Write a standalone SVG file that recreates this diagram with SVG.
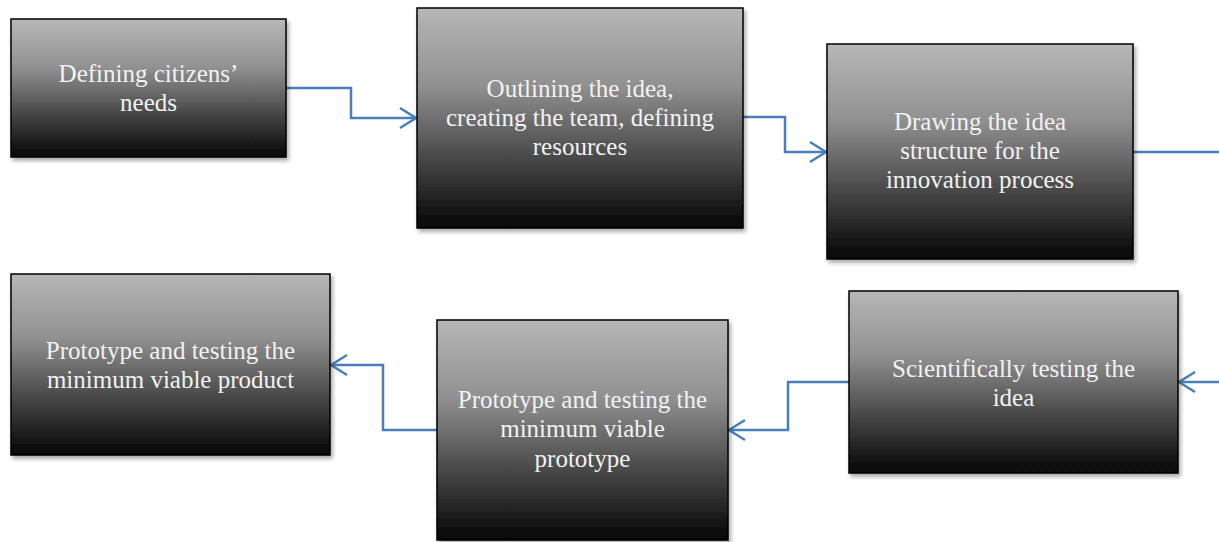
<svg xmlns="http://www.w3.org/2000/svg" width="1219" height="542" viewBox="0 0 1219 542">
<style>
.box{fill:url(#g);stroke:#000;stroke-width:1.5;filter:url(#sh)}
.lbl{font-family:"Liberation Serif","Times New Roman",serif;font-size:25px;fill:#f2f2f2;text-anchor:middle}
.con{fill:none;stroke:#4a7ebb;stroke-width:2.5;marker-end:url(#ah)}
.con2{fill:none;stroke:#4a7ebb;stroke-width:2.5}
</style>
<defs>
<linearGradient id="g" x1="0" y1="0" x2="0" y2="1">
<stop offset="0" stop-color="#b7b7b7"/>
<stop offset="0.35" stop-color="#919191"/>
<stop offset="0.7" stop-color="#444444"/>
<stop offset="1" stop-color="#050505"/>
</linearGradient>
<filter id="sh" x="-5%" y="-5%" width="115%" height="120%">
<feDropShadow dx="2" dy="3" stdDeviation="2" flood-color="#000" flood-opacity="0.35"/>
</filter>
<marker id="ah" markerUnits="userSpaceOnUse" viewBox="-2 -2 22 24" refX="16" refY="10" markerWidth="22" markerHeight="24" orient="auto">
<path d="M0,0 L16,10 L0,20" fill="none" stroke="#4a7ebb" stroke-width="2.5"/>
</marker>
</defs>
<rect width="1219" height="542" fill="#fff"/>
<g id="connectors">
<polyline class="con" points="286,88 351,88 351,118 416,118"/>
<polyline class="con" points="743,117 785,117 785,152 826,152"/>
<polyline class="con2" points="1133,152 1219,152"/>
<polyline class="con" points="1219,382 1179,382"/>
<polyline class="con" points="849,382 788,382 788,430 729,430"/>
<polyline class="con" points="437,430 383,430 383,365 331,365"/>
</g>
<g id="n1">
<rect class="box" x="11" y="19" width="275" height="138"/>
<text class="lbl" x="148.5" y="82">Defining citizens’</text>
<text class="lbl" x="148.5" y="111">needs</text>
</g>
<g id="n2">
<rect class="box" x="417" y="8" width="326" height="220"/>
<text class="lbl" x="580" y="97">Outlining the idea,</text>
<text class="lbl" x="580" y="126">creating the team, defining</text>
<text class="lbl" x="580" y="155">resources</text>
</g>
<g id="n3">
<rect class="box" x="827" y="44" width="306" height="215"/>
<text class="lbl" x="980" y="130">Drawing the idea</text>
<text class="lbl" x="980" y="159">structure for the</text>
<text class="lbl" x="980" y="188">innovation process</text>
</g>
<g id="n4">
<rect class="box" x="11" y="274" width="319" height="181"/>
<text class="lbl" x="170.5" y="359">Prototype and testing the</text>
<text class="lbl" x="170.5" y="388">minimum viable product</text>
</g>
<g id="n5">
<rect class="box" x="437" y="320" width="291" height="220"/>
<text class="lbl" x="582.5" y="408">Prototype and testing the</text>
<text class="lbl" x="582.5" y="437">minimum viable</text>
<text class="lbl" x="582.5" y="467">prototype</text>
</g>
<g id="n6">
<rect class="box" x="849" y="291" width="329" height="182"/>
<text class="lbl" x="1013.5" y="377">Scientifically testing the</text>
<text class="lbl" x="1013.5" y="406">idea</text>
</g>
</svg>
